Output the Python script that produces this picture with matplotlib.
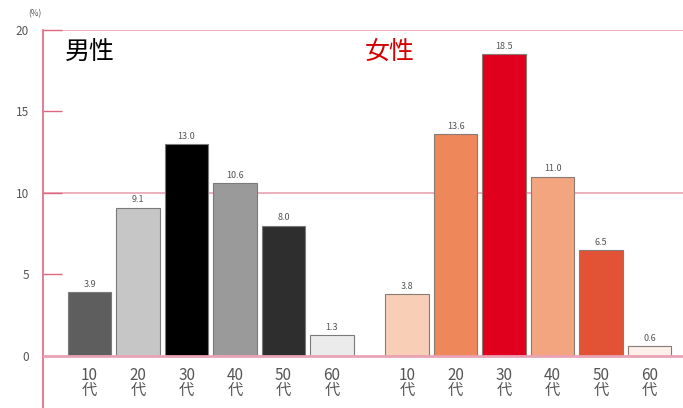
import matplotlib.pyplot as plt

plt.rcParams['font.family'] = ['Noto Sans CJK JP', 'DejaVu Sans']

ages = ["10\n代", "20\n代", "30\n代", "40\n代", "50\n代", "60\n代"]
male = [3.9, 9.1, 13.0, 10.6, 8.0, 1.3]
female = [3.8, 13.6, 18.5, 11.0, 6.5, 0.6]
male_colors = ["#5e5e5e", "#c6c6c6", "#000000", "#9a9a9a", "#2e2e2e", "#ebebeb"]
female_colors = ["#f8cfb6", "#ee875a", "#e0001e", "#f3a580", "#e25336", "#fdf0ea"]
y_ticks = [0, 5, 10, 15, 20]

pink = "#eaa3b4"
step_gap = 6.55

fig = plt.figure(figsize=(6.83, 4.08), dpi=100)
ax = fig.add_axes([0.063, 0.0, 0.937, 0.9265])

xm = list(range(len(male)))
xf = [i + step_gap for i in range(len(female))]

ax.bar(xm, male, width=0.9, color=male_colors, edgecolor="#7a7a7a", linewidth=0.8, zorder=3)
ax.bar(xf, female, width=0.9, color=female_colors, edgecolor="#8a7a74", linewidth=0.8, zorder=3)

for x, v in list(zip(xm, male)) + list(zip(xf, female)):
    ax.text(x, v + 0.2, f"{v:.1f}", ha="center", va="bottom", fontsize=6.5,
            color="#555555", zorder=4)

for x, lab in list(zip(xm, ages)) + list(zip(xf, ages)):
    ax.text(x, -1.65, lab, ha="center", va="center", fontsize=11,
            color="#555555", linespacing=0.9)

# grid lines at 0, 10, 20
ax.axhline(20, color=pink, lw=1.2, zorder=1)
ax.axhline(10, color=pink, lw=1.2, zorder=1)
ax.axhline(0, color=pink, lw=2.0, zorder=4)

ax.set_xlim(-0.96, 12.24)
ax.set_ylim(-3.19, 20)
for s in ["top", "right", "bottom"]:
    ax.spines[s].set_visible(False)
ax.spines["left"].set_color("#e0667f")
ax.spines["left"].set_linewidth(1.2)
ax.set_xticks([])
ax.set_yticks(y_ticks)
ax.set_yticklabels([str(t) for t in y_ticks], fontsize=8.5, color="#555555")
ax.tick_params(axis="y", direction="in", length=14, width=1.0, color="#e0667f", pad=10)

ax.text(-1.13, 21.0, "(%)", fontsize=6, color="#555555", ha="center", va="center",
        clip_on=False)

ax.text(-0.5, 18.6, "男性", fontsize=18, color="#000000", ha="left", va="center")
ax.text(5.68, 18.6, "女性", fontsize=18, color="#d40000", ha="left", va="center")

fig.savefig("out.png", dpi=100)
